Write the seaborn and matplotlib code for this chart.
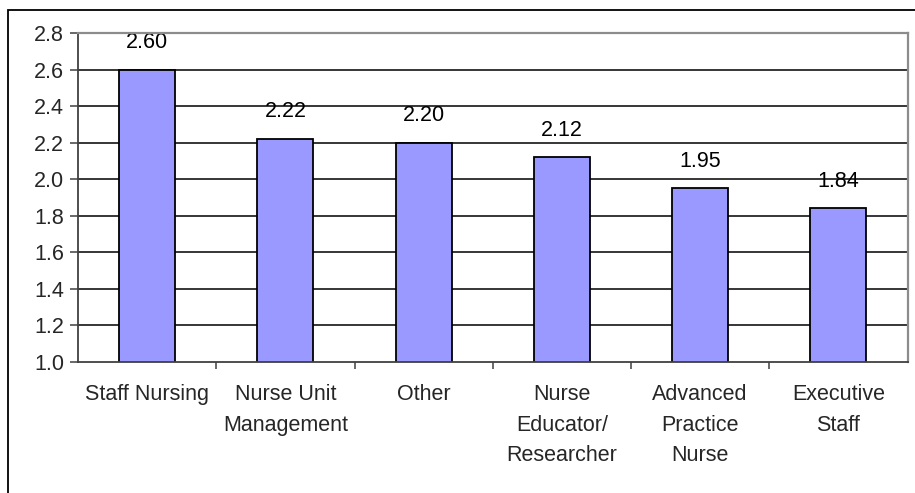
import matplotlib
matplotlib.use("Agg")
import matplotlib.pyplot as plt
import matplotlib.patches as mpatches
import seaborn as sns
import pandas as pd

# Mean scores by nursing role
roles = ["Staff Nursing", "Nurse Unit\nManagement", "Other",
         "Nurse\nEducator/\nResearcher", "Advanced\nPractice\nNurse",
         "Executive\nStaff"]
scores = [2.60, 2.22, 2.20, 2.12, 1.95, 1.84]
value_labels = ["2.60", "2.22", "2.20", "2.12", "1.95", "1.84"]
y_ticks = [1.0, 1.2, 1.4, 1.6, 1.8, 2.0, 2.2, 2.4, 2.6, 2.8]

sns.set_theme(style="white")
plt.rcParams["font.family"] = ["Liberation Sans", "DejaVu Sans"]

FS = 15.5

df = pd.DataFrame({"role": roles, "score": scores})

fig = plt.figure(figsize=(9.15, 4.93), dpi=100)
fig.patch.set_facecolor("white")
ax = fig.add_axes([78 / 915, 1 - 362 / 493, (907.5 - 78) / 915, (362 - 33) / 493])

sns.barplot(data=df, x="role", y="score", ax=ax, color="#9999FF",
            saturation=1, width=0.405, edgecolor="black", linewidth=1.3,
            zorder=3)

ax.set_ylim(1.0, 2.8)
ax.set_xlim(-0.5, len(roles) - 0.5)
ax.set_yticks(y_ticks)
ax.set_yticklabels([f"{v:.1f}" for v in y_ticks])
ax.set_xlabel("")
ax.set_ylabel("")

# horizontal gridlines
for v in y_ticks[1:-1]:
    ax.axhline(v, color="black", linewidth=1.1, zorder=1)

# axes frame: dark left/bottom, grey top/right
for side in ("left", "bottom"):
    ax.spines[side].set_color("#404040")
    ax.spines[side].set_linewidth(1.3)
for side in ("top", "right"):
    ax.spines[side].set_color("#8c8c8c")
    ax.spines[side].set_linewidth(1.6)
for s in ax.spines.values():
    s.set_visible(True)
    s.set_zorder(4)

# category boundary ticks on the x axis
ax.set_xticks([i + 0.5 for i in range(len(roles) - 1)], minor=True)
ax.tick_params(axis="x", which="minor", length=5, width=1.1, color="#404040",
               direction="out", bottom=True)
ax.tick_params(axis="x", which="major", length=0, pad=16, labelsize=FS)
ax.tick_params(axis="y", which="major", length=6, width=1.1, color="#404040",
               direction="out", left=True, pad=4, labelsize=FS)
for lbl in ax.get_xticklabels():
    lbl.set_linespacing(1.58)
    lbl.set_verticalalignment("top")

# value labels above bars
for i, (v, t) in enumerate(zip(scores, value_labels)):
    ax.annotate(t, xy=(i, v), xytext=(0, 19.5), textcoords="offset points",
                ha="center", va="center", fontsize=FS, color="black")

# outer chart border
fig.patches.append(mpatches.Rectangle((8 / 915, -0.5), 2.0, 1.5 - 10 / 493,
                                      transform=fig.transFigure,
                                      fill=False, edgecolor="black",
                                      linewidth=1.3, clip_on=False))

fig.savefig("out.png", dpi=100, facecolor="white")
